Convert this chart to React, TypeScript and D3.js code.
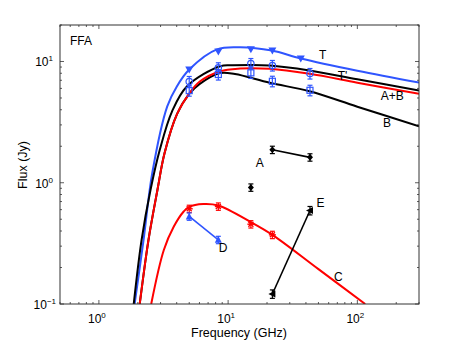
import React from 'react';
import * as d3 from 'd3';

// model curves
const curveTFreq = [1.89, 2.21, 2.59, 3.38, 4.0, 5.0, 8.2, 12.4, 21.8, 36.5, 100, 300];
const curveTFlux = [0.1, 0.33, 1.21, 4.27, 6.2, 8.58, 12.6, 13.1, 12.3, 10.6, 8.4, 6.7];
const curveTpFreq = [1.86, 2.14, 2.51, 2.96, 3.69, 4.81, 8.68, 10.9, 21.0, 42.7, 100, 300];
const curveTpFlux = [0.1, 0.338, 0.875, 1.87, 3.9, 6.25, 9.14, 9.3, 9.27, 8.43, 7.13, 5.76];
const curveABFreq = [2.07, 2.42, 2.84, 3.22, 4.03, 5.0, 6.0, 8.68, 12.4, 21.0, 42.7, 100, 300];
const curveABFlux = [0.1, 0.338, 0.875, 1.75, 3.7, 5.44, 6.8, 8.32, 8.75, 8.7, 7.91, 6.69, 5.41];
const curveBFreq = [2.07, 2.42, 2.84, 3.22, 4.03, 5.0, 6.0, 8.68, 11.3, 21.0, 42.7, 100, 300];
const curveBFlux = [0.1, 0.338, 0.875, 1.75, 3.7, 5.4, 6.5, 8.03, 7.88, 6.67, 5.69, 4.24, 2.92];
const curveCFreq = [2.54, 3.18, 3.8, 4.53, 5.0, 6.42, 8.38, 15.2, 22, 50, 115];
const curveCFlux = [0.1, 0.279, 0.435, 0.579, 0.633, 0.667, 0.649, 0.47, 0.372, 0.194, 0.1];

// observations
const freqs = [5, 8.4, 15, 22, 43];
const tFreqs = [5, 8.4, 15, 22, 36.5];
const tFlux = [8.58, 12.1, 12.6, 12.3, 10.6];
const tpFlux = [6.84, 8.87, 9.62, 9.27, 7.96];
const bFlux = [5.75, 7.81, 8.06, 6.87, 5.79];
const cFreqs = [5, 8.4, 15, 22];
const cFlux = [0.61, 0.637, 0.455, 0.372];
const dFreqs = [5, 8.4];
const dFlux = [0.527, 0.338];
const aFreqs = [15, 22, 43];
const aFlux = [0.914, 1.87, 1.62];
const eFreqs = [22, 43];
const eFlux = [0.121, 0.59];

const labels = [
  { t: 'T', nu: 53.8, s: 11.4 },
  { t: "T'", nu: 76.7, s: 7.66 },
  { t: 'A+B', nu: 186, s: 5.24 },
  { t: 'B', nu: 170, s: 3.13 },
  { t: 'A', nu: 17.6, s: 1.46 },
  { t: 'C', nu: 71.4, s: 0.167 },
  { t: 'D', nu: 9.15, s: 0.29 },
  { t: 'E', nu: 51.9, s: 0.684 },
];

const BLUE = '#2f55ff';
const RED = '#ff0000';
const FONT = 'Liberation Sans, Arial, sans-serif';

export default function App() {
  const left = 60, right = 419, top = 25, bottom = 304;
  const x = d3.scaleLog().domain([0.5, 300]).range([left, right]);
  const y = d3.scaleLog().domain([0.1, 20]).range([bottom, top]);

  const line = d3.line<[number, number]>()
    .x(d => x(d[0]))
    .y(d => y(d[1]))
    .curve(d3.curveCatmullRom.alpha(0.5));
  const straight = d3.line<[number, number]>().x(d => x(d[0])).y(d => y(d[1]));
  const zip = (a: number[], b: number[]) => a.map((v, i) => [v, b[i]] as [number, number]);

  const isMajor = (v: number) => Math.abs(Math.log10(v) - Math.round(Math.log10(v))) < 1e-6;
  const xt = x.ticks();
  const yt = y.ticks();

  const errBar = (nu: number, s: number, e: number, color: string, key: string) => {
    const cx = x(nu);
    const y1 = y(s * (1 + e)), y2 = y(s * (1 - e));
    return (
      <g key={key} stroke={color} strokeWidth={1.2}>
        <line x1={cx} x2={cx} y1={y1} y2={y2} />
        <line x1={cx - 2.5} x2={cx + 2.5} y1={y1} y2={y1} />
        <line x1={cx - 2.5} x2={cx + 2.5} y1={y2} y2={y2} />
      </g>
    );
  };

  return (
    <svg width={463} height={342} style={{ position: 'absolute', left: 0, top: 0 }} fontFamily={FONT}>
      <rect width={463} height={342} fill="#fff" />
      <defs>
        <clipPath id="plot">
          <rect x={left} y={top} width={right - left} height={bottom - top} />
        </clipPath>
      </defs>

      {/* ticks */}
      <g stroke="#333" strokeWidth={0.8}>
        {xt.map((v, i) => {
          const len = isMajor(v) ? 4 : 2;
          return (
            <g key={'xt' + i}>
              <line x1={x(v)} x2={x(v)} y1={bottom} y2={bottom - len} />
              <line x1={x(v)} x2={x(v)} y1={top} y2={top + len} />
            </g>
          );
        })}
        {yt.map((v, i) => {
          const len = isMajor(v) ? 4 : 2;
          return (
            <g key={'yt' + i}>
              <line x1={left} x2={left + len} y1={y(v)} y2={y(v)} />
              <line x1={right} x2={right - len} y1={y(v)} y2={y(v)} />
            </g>
          );
        })}
      </g>

      <g clipPath="url(#plot)" fill="none" strokeWidth={2}>
        <path d={line(zip(curveTFreq, curveTFlux)) || ''} stroke={BLUE} />
        <path d={line(zip(curveTpFreq, curveTpFlux)) || ''} stroke="#000" />
        <path d={line(zip(curveBFreq, curveBFlux)) || ''} stroke="#000" />
        <path d={line(zip(curveABFreq, curveABFlux)) || ''} stroke={RED} />
        <path d={line(zip(curveCFreq, curveCFlux)) || ''} stroke={RED} />
      </g>

      {/* connecting lines */}
      <g fill="none" strokeWidth={1.6}>
        <path d={straight(zip(dFreqs, dFlux)) || ''} stroke={BLUE} />
        <path d={straight(zip(aFreqs.slice(1), aFlux.slice(1))) || ''} stroke="#000" />
        <path d={straight(zip(eFreqs, eFlux)) || ''} stroke="#000" />
      </g>

      {/* T: down triangles */}
      {tFreqs.map((nu, i) => {
        const cx = x(nu), cy = y(tFlux[i]);
        return <path key={'t' + i} d={`M${cx - 4},${cy - 3}L${cx + 4},${cy - 3}L${cx},${cy + 4}Z`} fill={BLUE} />;
      })}
      {/* T': open circles */}
      {freqs.map((nu, i) => (
        <g key={'tp' + i}>
          {errBar(nu, tpFlux[i], 0.1, BLUE, 'tpe' + i)}
          <circle cx={x(nu)} cy={y(tpFlux[i])} r={3.2} fill="none" stroke={BLUE} strokeWidth={1.2} />
        </g>
      ))}
      {/* B: open squares */}
      {freqs.map((nu, i) => (
        <g key={'b' + i}>
          {errBar(nu, bFlux[i], 0.1, BLUE, 'be' + i)}
          <rect x={x(nu) - 3} y={y(bFlux[i]) - 3} width={6} height={6} fill="none" stroke={BLUE} strokeWidth={1.2} />
        </g>
      ))}
      {/* C: red stars */}
      {cFreqs.map((nu, i) => {
        const cx = x(nu), cy = y(cFlux[i]);
        return (
          <g key={'c' + i} stroke={RED} strokeWidth={1.4}>
            {errBar(nu, cFlux[i], 0.07, RED, 'ce' + i)}
            <line x1={cx - 3.5} x2={cx + 3.5} y1={cy} y2={cy} />
            <line x1={cx - 2.5} x2={cx + 2.5} y1={cy - 2.5} y2={cy + 2.5} />
            <line x1={cx - 2.5} x2={cx + 2.5} y1={cy + 2.5} y2={cy - 2.5} />
          </g>
        );
      })}
      {/* D: up triangles */}
      {dFreqs.map((nu, i) => {
        const cx = x(nu), cy = y(dFlux[i]);
        return (
          <g key={'d' + i}>
            {errBar(nu, dFlux[i], 0.07, BLUE, 'de' + i)}
            <path d={`M${cx - 3.5},${cy + 3}L${cx + 3.5},${cy + 3}L${cx},${cy - 4}Z`} fill={BLUE} />
          </g>
        );
      })}
      {/* A: diamonds */}
      {aFreqs.map((nu, i) => {
        const cx = x(nu), cy = y(aFlux[i]);
        return (
          <g key={'a' + i}>
            {errBar(nu, aFlux[i], 0.07, '#000', 'ae' + i)}
            <path d={`M${cx},${cy - 3.5}L${cx + 3},${cy}L${cx},${cy + 3.5}L${cx - 3},${cy}Z`} fill="#000" />
          </g>
        );
      })}
      {/* E: left triangles */}
      {eFreqs.map((nu, i) => {
        const cx = x(nu), cy = y(eFlux[i]);
        return (
          <g key={'e' + i}>
            {errBar(nu, eFlux[i], 0.08, '#000', 'ee' + i)}
            <path d={`M${cx - 4},${cy}L${cx + 3},${cy - 3.5}L${cx + 3},${cy + 3.5}Z`} fill="#000" />
          </g>
        );
      })}

      {/* frame */}
      <rect x={left} y={top} width={right - left} height={bottom - top} fill="none" stroke="#333" strokeWidth={1} />

      {/* curve labels */}
      {labels.map((l, i) => (
        <text key={'l' + i} x={x(l.nu)} y={y(l.s) + 4.5} fontSize={12} textAnchor="middle" fill="#000">{l.t}</text>
      ))}
      <text x={70} y={45} fontSize={12} fill="#000">FFA</text>

      {/* tick labels */}
      {xt.filter(isMajor).map((v, i) => (
        <text key={'xl' + i} x={x(v) - 2} y={323} fontSize={12} textAnchor="middle" fill="#000">
          10<tspan dy={-5} fontSize={8}>{Math.round(Math.log10(v))}</tspan>
        </text>
      ))}
      {yt.filter(isMajor).map((v, i) => {
        const p = Math.round(Math.log10(v));
        return (
          <text key={'yl' + i} x={p < 0 ? 56 : 53} y={y(v) + 5} fontSize={12} textAnchor="end" fill="#000">
            10<tspan dy={-5} fontSize={8}>{p < 0 ? '\u22121' : p}</tspan>
          </text>
        );
      })}

      <text x={239} y={337} fontSize={12.5} textAnchor="middle" fill="#000">Frequency (GHz)</text>
      <text transform="translate(27,165) rotate(-90)" fontSize={12.5} textAnchor="middle" fill="#000">Flux (Jy)</text>
    </svg>
  );
}
